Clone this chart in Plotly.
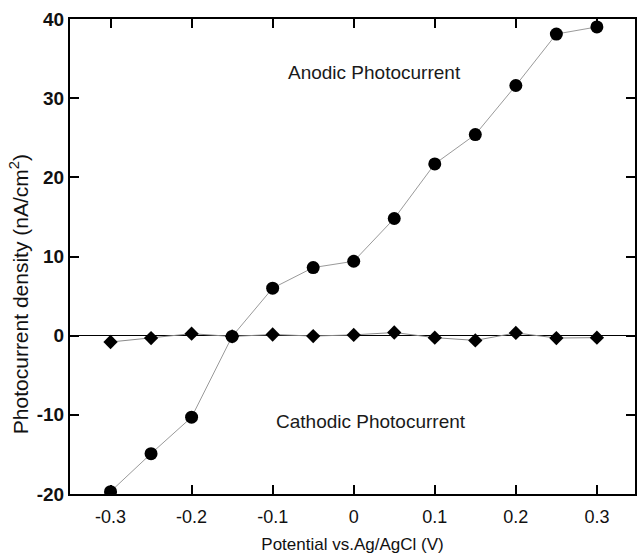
import plotly.graph_objects as go

potential = [-0.3, -0.25, -0.2, -0.15, -0.1, -0.05, 0.0, 0.05, 0.1, 0.15, 0.2, 0.25, 0.3]
anodic = [-19.7, -14.9, -10.3, -0.1, 6.0, 8.6, 9.4, 14.8, 21.7, 25.4, 31.6, 38.1, 39.0]
cathodic = [-0.8, -0.3, 0.25, -0.1, 0.15, -0.05, 0.1, 0.4, -0.25, -0.6, 0.35, -0.3, -0.25]
x_ticks = [-0.3, -0.2, -0.1, 0, 0.1, 0.2, 0.3]
x_labels = ["-0.3", "-0.2", "-0.1", "0", "0.1", "0.2", "0.3"]
y_ticks = [-20, -10, 0, 10, 20, 30, 40]
y_labels = ["-20", "-10", "0", "10", "20", "30", "40"]

fig = go.Figure()
fig.add_trace(go.Scatter(
    x=potential, y=cathodic, mode="lines+markers",
    line=dict(color="#8a8a8a", width=1),
    marker=dict(symbol="diamond", size=11, color="black"),
    showlegend=False))
fig.add_trace(go.Scatter(
    x=potential, y=anodic, mode="lines+markers",
    line=dict(color="#9a9a9a", width=1),
    marker=dict(symbol="circle", size=13, color="black"),
    showlegend=False))

font = "Liberation Sans, Arial, sans-serif"
fig.add_annotation(x=0.026, y=33.2, text="Anodic Photocurrent", showarrow=False,
                   font=dict(family=font, size=19, color="#1a1a1a"))
fig.add_annotation(x=0.021, y=-10.9, text="Cathodic Photocurrent", showarrow=False,
                   font=dict(family=font, size=19, color="#1a1a1a"))
fig.add_annotation(xref="paper", yref="paper", x=-0.09, y=0.421,
                   xanchor="center", yanchor="middle", textangle=-90,
                   text="Photocurrent density (nA/cm<sup>2</sup>)", showarrow=False,
                   font=dict(family=font, size=21, color="#111"))

fig.update_layout(
    width=639, height=554,
    margin=dict(l=70, r=2, t=19, b=59),
    paper_bgcolor="white", plot_bgcolor="white",
    font=dict(family=font, color="#111"),
    xaxis=dict(range=[-0.35, 0.347], tickvals=x_ticks, ticktext=x_labels,
               ticks="inside", ticklen=9, tickwidth=2, tickcolor="black",
               showline=True, linewidth=2, linecolor="black", mirror="ticks",
               showgrid=False, zeroline=False, ticklabelstandoff=5,
               tickfont=dict(size=18, color="#111"),
               title=dict(text="Potential vs.Ag/AgCl (V)", font=dict(size=17, color="#111"), standoff=14)),
    yaxis=dict(range=[-20, 40], tickvals=y_ticks, ticktext=y_labels,
               ticks="inside", ticklen=9, tickwidth=2, tickcolor="black",
               showline=True, linewidth=2, linecolor="black", mirror="ticks",
               showgrid=False, zeroline=True, zerolinecolor="black", zerolinewidth=1,
               tickfont=dict(size=19, color="#111", weight="bold")),
)

fig.write_html("out.html")
